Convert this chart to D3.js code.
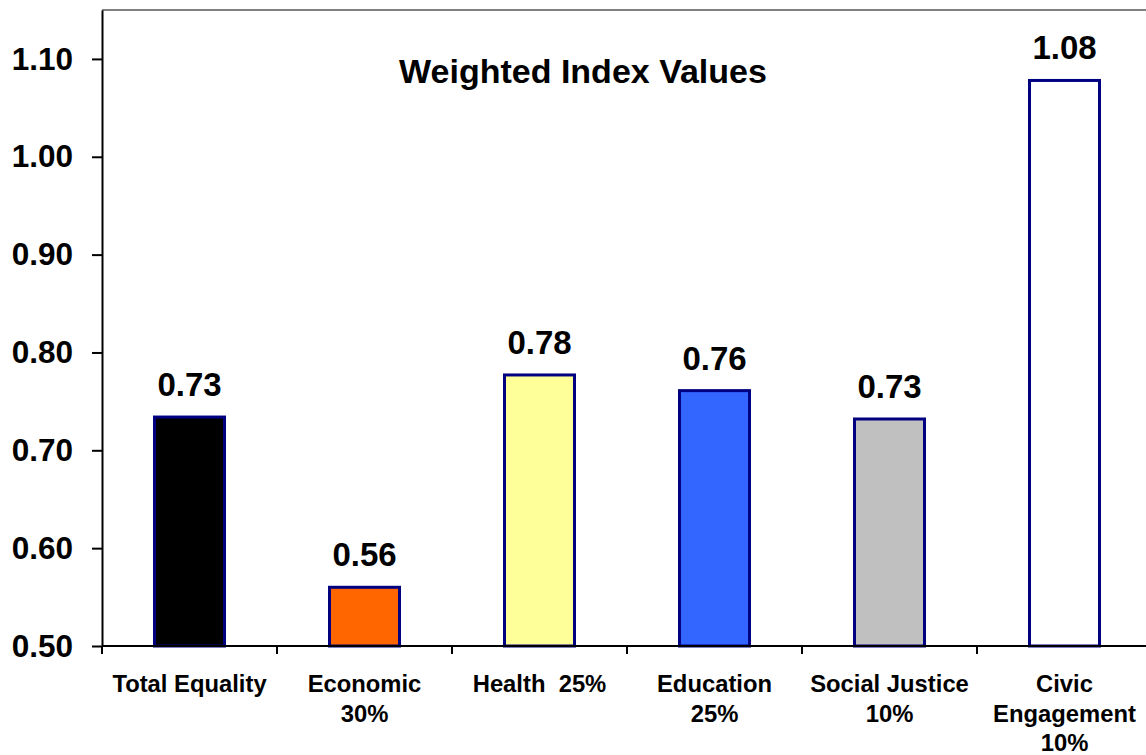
<!DOCTYPE html>
<html>
<head>
<meta charset="utf-8">
<script src="https://cdn.jsdelivr.net/npm/d3@7"></script>
<style>
  body { margin: 0; background: #fff; }
  svg { display: block; font-family: "Liberation Sans", Arial, sans-serif; font-weight: bold; }
</style>
</head>
<body>
<svg id="chart_svg" width="1146" height="755"></svg>
<script>
// data
const categories = ["Total Equality", "Economic 30%", "Health 25%", "Education 25%", "Social Justice 10%", "Civic Engagement 10%"];
const labelLines = [["Total Equality"], ["Economic", "30%"], ["Health  25%"], ["Education", "25%"], ["Social Justice", "10%"], ["Civic", "Engagement", "10%"]];
const values = [0.734, 0.56, 0.777, 0.761, 0.732, 1.078];
const valueLabels = ["0.73", "0.56", "0.78", "0.76", "0.73", "1.08"];
const barColors = ["#000000", "#FF6600", "#FFFF99", "#3366FF", "#C0C0C0", "#FFFFFF"];
const yTicks = [0.5, 0.6, 0.7, 0.8, 0.9, 1.0, 1.1];

const margin = { top: 10, bottom: 109, left: 102, right: -6 };
const svg = d3.select("#chart_svg");
const width = 1146, height = 755;

const xScale = d3.scaleBand()
  .domain(categories)
  .range([margin.left, width - margin.right]);

const yScale = d3.scaleLinear()
  .domain([0.5, 1.15])
  .range([height - margin.bottom, margin.top]);

const bw = xScale.bandwidth();
const y0 = yScale(0.5);

// plot area top border
svg.append("line")
  .attr("x1", margin.left).attr("x2", width)
  .attr("y1", margin.top).attr("y2", margin.top)
  .attr("stroke", "#808080").attr("stroke-width", 2);

// bars
svg.append("g").selectAll("rect")
  .data(categories)
  .join("rect")
  .attr("x", (d) => xScale(d) + bw * 0.3)
  .attr("width", bw * 0.4)
  .attr("y", (d, i) => yScale(values[i]))
  .attr("height", (d, i) => y0 - yScale(values[i]))
  .attr("fill", (d, i) => barColors[i])
  .attr("stroke", "#000080")
  .attr("stroke-width", 3);

// value labels
svg.append("g").selectAll("text")
  .data(categories)
  .join("text")
  .attr("x", (d) => xScale(d) + bw / 2)
  .attr("y", (d, i) => yScale(values[i]) - 21)
  .attr("text-anchor", "middle")
  .attr("font-size", 33)
  .attr("fill", "#000")
  .text((d, i) => valueLabels[i]);

// y axis
const yAxis = d3.axisLeft(yScale)
  .tickValues(yTicks)
  .tickFormat(d3.format(".2f"))
  .tickSize(10)
  .tickSizeOuter(0)
  .tickPadding(19);

const gy = svg.append("g")
  .attr("transform", `translate(${margin.left},0)`)
  .call(yAxis);
gy.select(".domain").attr("stroke", "#000").attr("stroke-width", 2);
gy.selectAll(".tick line").attr("stroke", "#000").attr("stroke-width", 2);
gy.selectAll(".tick text")
  .attr("font-size", 31.5)
  .attr("font-family", "Liberation Sans, Arial, sans-serif")
  .attr("font-weight", "bold")
  .attr("fill", "#000");

// x axis: line + boundary ticks
const gx = svg.append("g");
gx.append("line")
  .attr("x1", margin.left).attr("x2", width)
  .attr("y1", y0).attr("y2", y0)
  .attr("stroke", "#000").attr("stroke-width", 2);
gx.selectAll(".xtick")
  .data(categories)
  .join("line")
  .attr("class", "xtick")
  .attr("x1", (d) => xScale(d)).attr("x2", (d) => xScale(d))
  .attr("y1", y0).attr("y2", y0 + 8)
  .attr("stroke", "#000").attr("stroke-width", 2);

const xLabels = gx.selectAll(".xlabel")
  .data(categories)
  .join("text")
  .attr("class", "xlabel")
  .attr("text-anchor", "middle")
  .attr("font-size", 23.8)
  .attr("fill", "#000");
xLabels.each(function (d, i) {
  const t = d3.select(this);
  labelLines[i].forEach((line, j) => {
    t.append("tspan")
      .attr("x", xScale(d) + bw / 2)
      .attr("y", 692 + j * 29.7)
      .attr("xml:space", "preserve")
      .text(line);
  });
});

// title
svg.append("text")
  .attr("x", 583)
  .attr("y", 83)
  .attr("text-anchor", "middle")
  .attr("font-size", 34)
  .attr("fill", "#000")
  .text("Weighted Index Values");
</script>
</body>
</html>
